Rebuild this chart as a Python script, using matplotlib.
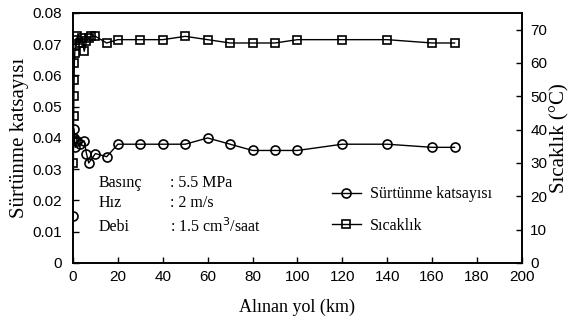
import matplotlib.pyplot as plt

# friction coefficient vs distance
km_fr = [0, 0.3, 0.6, 1, 2, 3, 5, 6, 7, 10, 15, 20, 30, 40, 50, 60, 70, 80, 90, 100, 120, 140, 160, 170]
friction = [0.015, 0.043, 0.040, 0.037, 0.039, 0.038, 0.039, 0.035, 0.032, 0.035, 0.034, 0.038,
            0.038, 0.038, 0.038, 0.040, 0.038, 0.036, 0.036, 0.036, 0.038, 0.038, 0.037, 0.037]

# temperature vs distance
km_t = [0, 0.2, 0.3, 0.4, 0.5, 0.6, 0.8, 1, 1.5, 2, 3, 4, 5, 6, 7, 8, 10, 15, 20,
        30, 40, 50, 60, 70, 80, 90, 100, 120, 140, 160, 170]
temp = [30, 37, 44, 50, 55, 60, 63, 65, 67, 68, 66, 67.5, 63.5, 66.5, 67.5, 68, 68, 66, 67,
        67, 67, 68, 67, 66, 66, 66, 67, 67, 67, 66, 66]

conditions = [('Basınç', ': 5.5 MPa'), ('Hız', ': 2 m/s'), ('Debi', ': 1.5 cm$^3$/saat')]

serif = ['Liberation Serif', 'DejaVu Serif']
sans = ['Liberation Sans', 'DejaVu Sans']
plt.rcParams['font.family'] = sans
plt.rcParams['font.size'] = 11

fig = plt.figure(figsize=(5.77, 3.25), dpi=100)
ax1 = fig.add_axes([0.1265, 0.191, 0.778, 0.769])
ax2 = ax1.twinx()

l1, = ax1.plot(km_fr, friction, color='black', lw=1, marker='o', ms=6.5,
               mfc='none', mec='black', mew=1.2)
l2, = ax2.plot(km_t, temp, color='black', lw=1, marker='s', ms=6,
               mfc='none', mec='black', mew=1.2)

ax1.set_xlim(0, 200)
ax1.set_ylim(0, 0.08)
ax2.set_ylim(0, 75)
ax1.set_xticks(range(0, 201, 20))
ax1.set_yticks([0, 0.01, 0.02, 0.03, 0.04, 0.05, 0.06, 0.07, 0.08])
ax1.set_yticklabels(['0', '0.01', '0.02', '0.03', '0.04', '0.05', '0.06', '0.07', '0.08'])
ax2.set_yticks(range(0, 71, 10))

ax1.tick_params(axis='y', direction='in', length=4, width=1, pad=8)
ax1.tick_params(axis='x', direction='in', length=4, width=1, pad=5)
ax2.tick_params(direction='in', length=4, width=1, pad=6)
for ax in (ax1, ax2):
    for sp in ax.spines.values():
        sp.set_linewidth(1.2)

ax1.set_xlabel('Alınan yol (km)', family=serif, fontsize=13, labelpad=11)
ax1.set_ylabel('Sürtünme katsayısı', family=serif, fontsize=15, labelpad=2)
ax2.set_ylabel('Sıcaklık (°C)', family=serif, fontsize=15, labelpad=2)

ys = [0.32, 0.24, 0.145]
for (name, val), y in zip(conditions, ys):
    ax1.text(0.056, y, name, transform=ax1.transAxes, family=serif, fontsize=11.5, va='center')
    ax1.text(0.215, y, val, transform=ax1.transAxes, family=serif, fontsize=11.5, va='center')

ax1.legend([l1, l2], ['Sürtünme katsayısı', 'Sıcaklık'], loc='lower left',
           bbox_to_anchor=(0.545, 0.06), frameon=False, prop={'family': serif, 'size': 11.5},
           handlelength=1.8, handletextpad=0.6, labelspacing=0.95)

fig.savefig('out.png', dpi=100)
